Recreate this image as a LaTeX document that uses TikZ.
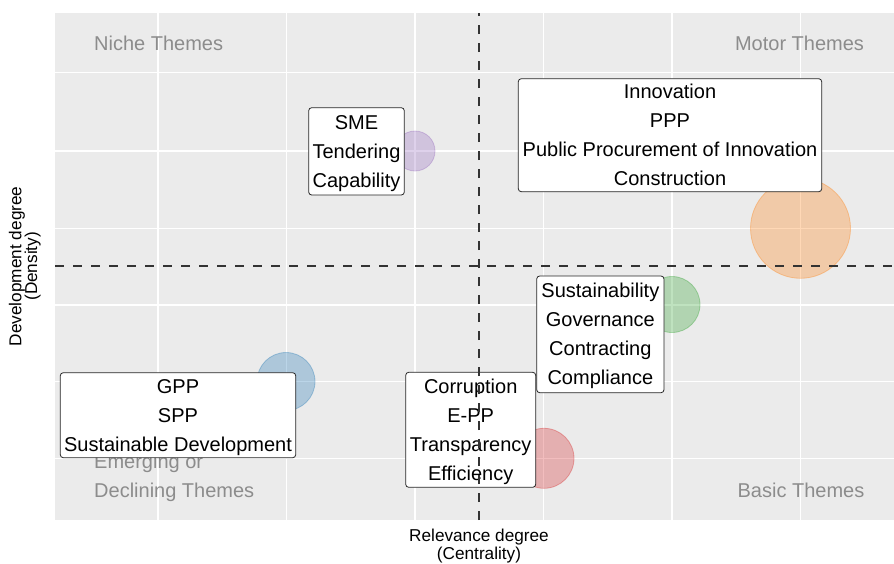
\documentclass[tikz,border=0pt]{standalone}
\usepackage{fontspec}
\setmainfont{Liberation Sans}
\definecolor{panel}{HTML}{EBEBEB}
\definecolor{qgray}{HTML}{8C8C8C}
\definecolor{cpurple}{HTML}{9467BD}
\definecolor{corange}{HTML}{FF7F0E}
\definecolor{cgreen}{HTML}{2CA02C}
\definecolor{cred}{HTML}{D62728}
\definecolor{cblue}{HTML}{1F77B4}
\newcommand\mystrut{\rule[-7.5pt]{0pt}{29pt}}
\begin{document}
\begin{tikzpicture}[x=1pt,y=-1pt,
  gridline/.style={white, line width=1.3pt},
  bubble/.style={circle, inner sep=0, fill=#1, fill opacity=0.3, draw=#1, draw opacity=0.35, line width=0.8pt},
  quad/.style={text=qgray, font=\fontsize{20}{24}\selectfont, inner sep=0},
  lblbox/.style={draw=black!85, line width=0.8pt, fill=white, rounded corners=3pt, inner sep=0},
  lbltext/.style={align=center, inner sep=0, font=\fontsize{20}{29}\selectfont},
  axtitle/.style={font=\fontsize{17.2}{20}\selectfont, inner sep=0, anchor=base},
  divider/.style={draw=black!80, line width=1.7pt, dash pattern=on 9pt off 9pt}
]
\useasboundingbox (0,0) rectangle (894,563);
% panel
\fill[panel] (55,12.5) rectangle (894,520);
\foreach \gx in {158,286.5,415,543.5,672,800.5}
  \draw[gridline] (\gx,12.5) -- (\gx,520);
\foreach \gy in {72.7,151,228.3,305,381.7,458.3}
  \draw[gridline] (55,\gy) -- (894,\gy);
% quadrant labels
\node[quad, anchor=base west] (niche) at (94,50.2) {Niche Themes};
\node[quad, anchor=base] (motor) at (799.5,50.2) {Motor Themes};
\node[quad, anchor=base] (basic) at (801,497.9) {Basic Themes};
\node[quad, anchor=base west] (emerg1) at (94,468.8) {Emerging or};
\node[quad, anchor=base west] (emerg2) at (94,497.9) {Declining Themes};
% bubbles
\node[bubble=cpurple, minimum size=40pt] (bsme) at (415,151) {};
\node[bubble=corange, minimum size=100pt] (binno) at (800.5,228.3) {};
\node[bubble=cgreen, minimum size=56pt] (bsust) at (672,304.5) {};
\node[bubble=cred, minimum size=60pt] (bcorr) at (544,458.3) {};
\node[bubble=cblue, minimum size=58pt] (bgpp) at (286,381.5) {};
% label boxes
\node[lblbox, minimum width=95.6pt, minimum height=87.3pt] (xsme) at (356.5,151.35) {};
\node[lbltext] (tsme) at (xsme.center) {\mystrut SME\\\mystrut Tendering\\\mystrut Capability};
\node[lblbox, minimum width=303.4pt, minimum height=113pt] (xinno) at (670,135.2) {};
\node[lbltext] (tinno) at (xinno.center) {\mystrut Innovation\\\mystrut PPP\\\mystrut Public Procurement of Innovation\\\mystrut Construction};
\node[lblbox, minimum width=127.3pt, minimum height=116.7pt] (xsust) at (600.35,334.35) {};
\node[lbltext] (tsust) at (xsust.center) {\mystrut Sustainability\\\mystrut Governance\\\mystrut Contracting\\\mystrut Compliance};
\node[lblbox, minimum width=235.4pt, minimum height=85pt] (xgpp) at (178,415.2) {};
\node[lbltext] (tgpp) at (xgpp.center) {\mystrut GPP\\\mystrut SPP\\\mystrut Sustainable Development};
\node[lblbox, minimum width=130pt, minimum height=115pt] (xcorr) at (470.7,429.8) {};
\node[lbltext] (tcorr) at (xcorr.center) {\mystrut Corruption\\\mystrut E-PP\\\mystrut Transparency\\\mystrut Efficiency};
% dividing lines
\coordinate (vbot) at (479,520);
\coordinate (vtop) at (479,12.5);
\coordinate (hleft) at (55,266);
\coordinate (hright) at (894,266);
\draw[divider] (vbot) -- (vtop);
\draw[divider] (hleft) -- (hright);
% axis titles
\node[axtitle] (xt1) at (479,541.5) {Relevance degree};
\node[axtitle] (xt2) at (479,559.5) {(Centrality)};
\node[axtitle, rotate=90] (yt1) at (21.4,266.3) {Development degree};
\node[axtitle, rotate=90] (yt2) at (37,266.3) {(Density)};
\end{tikzpicture}
\end{document}
